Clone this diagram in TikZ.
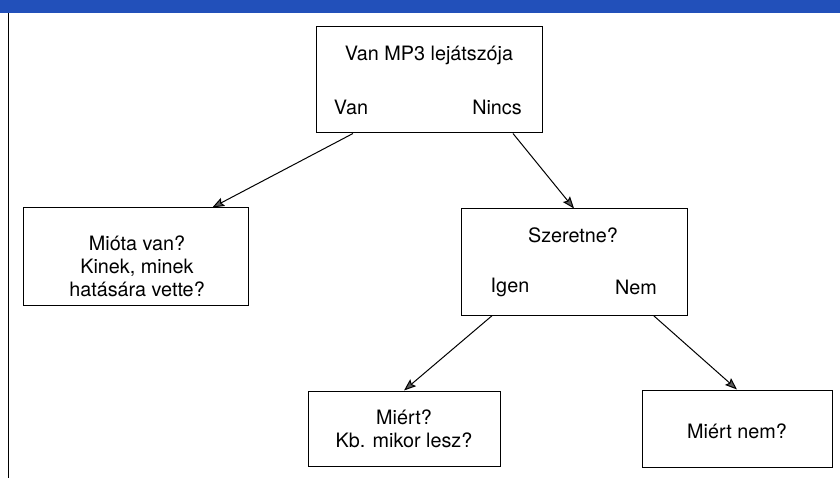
\documentclass[tikz,border=0pt]{standalone}
\usepackage{fontspec}
\setmainfont{TeX Gyre Heros}
\usepackage{xcolor}
\usetikzlibrary{arrows.meta, calc}
\definecolor{bandblue}{RGB}{34,80,186}
\definecolor{tipgray}{RGB}{90,90,90}

\tikzset{
  qbox/.style={draw, line width=1pt, minimum width=#1, inner sep=0pt},
  qtext/.style={font=\fontsize{19.8}{23}\selectfont, align=center, inner sep=0pt},
  qarrow/.style={line width=1pt, -{Stealth[length=12pt,width=9pt,inset=2pt,fill=tipgray]}}
}

\begin{document}
\begin{tikzpicture}[x=1pt, y=-1pt]
  \useasboundingbox (0,0) rectangle (840,478);
  % frame of the page
  \fill[bandblue] (0,0) rectangle (840,13);
  \draw[line width=1pt] (8,13) -- (8,478);

  % boxes
  \node[qbox=226pt, minimum height=106pt] (top) at (429,80) {};
  \node[qbox=225pt, minimum height=97pt] (since) at (135.5,256.5) {};
  \node[qbox=226pt, minimum height=106pt] (want) at (574,262) {};
  \node[qbox=192pt, minimum height=75pt] (why) at (404,428.5) {};
  \node[qbox=190pt, minimum height=77pt] (whynot) at (737,428.5) {};

  % texts
  \node[qtext] (toptitle) at (429,55) {Van MP3 lejátszója};
  \node[qtext] (van) at (351,107) {Van};
  \node[qtext] (nincs) at (497,107) {Nincs};
  \node[qtext] (sincetext) at (137,266) {Mióta van?\\Kinek, minek\\hatására vette?};
  \node[qtext] (wanttitle) at (573,235) {Szeretne?};
  \node[qtext] (igen) at (510,287) {Igen};
  \node[qtext] (nem) at (636,287) {Nem};
  \node[qtext] (whytext) at (404,429) {Miért?\\Kb. mikor lesz?};
  \node[qtext] (whynottext) at (737,431) {Miért nem?};

  % arrows
  \coordinate (vanout) at ($(top.south west)!0.165!(top.south east)$);
  \coordinate (nincsout) at ($(top.south west)!0.87!(top.south east)$);
  \coordinate (sincein) at ($(since.north west)!0.84!(since.north east)$);
  \coordinate (igenout) at ($(want.south west)!0.14!(want.south east)$);
  \coordinate (nemout) at ($(want.south west)!0.85!(want.south east)$);
  \draw[qarrow] (vanout) -- (sincein);
  \draw[qarrow] (nincsout) -- (want.north);
  \draw[qarrow] (igenout) -- (why.north);
  \draw[qarrow] (nemout) -- (whynot.north);
\end{tikzpicture}
\end{document}
